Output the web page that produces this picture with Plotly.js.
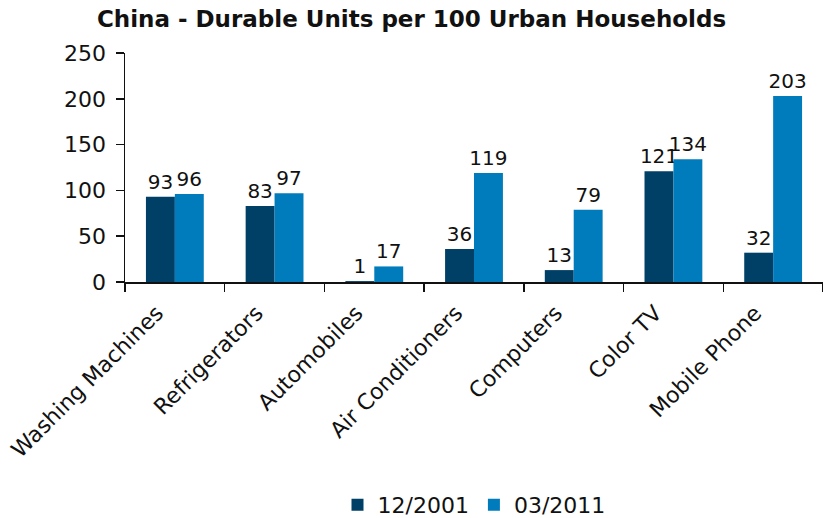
<!DOCTYPE html>
<html><head><meta charset="utf-8">
<script src="https://cdn.plot.ly/plotly-3.0.1.min.js"></script>
<style>body{margin:0;padding:0;background:#fff}</style>
</head><body>
<div id="chart" style="width:823px;height:518px"></div>
<script>
const categories = ["Washing Machines","Refrigerators","Automobiles","Air Conditioners","Computers","Color TV","Mobile Phone"];
const series2001 = [93, 83, 1, 36, 13, 121, 32];
const series2011 = [96, 97, 17, 119, 79, 134, 203];
const seriesNames = ["12/2001", "03/2011"];
const yTicks = [0, 50, 100, 150, 200, 250];

const font = "Verdana, 'DejaVu Sans', sans-serif";
const traces = [
  {type:'bar', name:seriesNames[0], x:categories, y:series2001, marker:{color:'#003f66'},
   text:series2001.map(String), textposition:'outside', cliponaxis:false, constraintext:'none',
   textfont:{size:20,color:'#111'}},
  {type:'bar', name:seriesNames[1], x:categories, y:series2011, marker:{color:'#007bbb'},
   text:series2011.map(String), textposition:'outside', cliponaxis:false, constraintext:'none',
   textfont:{size:20,color:'#111'}}
];
const layout = {
  width:823, height:518,
  margin:{l:125, r:0, t:53, b:236},
  font:{family:font, size:22, color:'#111'},
  title:{text:'<b>China - Durable Units per 100 Urban Households</b>', x:0.5, xref:'container', xanchor:'center', y:0.963, yanchor:'middle', font:{size:23, family:font, color:'#111'}},
  barmode:'group', bargap:0.42, bargroupgap:0,
  showlegend:true,
  legend:{orientation:'h', x:0.5, xanchor:'center', yref:'container', y:0.025, yanchor:'middle', font:{size:22}, traceorder:'normal'},
  xaxis:{tickangle:-45, showline:true, linecolor:'#111', linewidth:1.5, ticks:'outside', tickson:'boundaries', ticklen:8, tickcolor:'#111', tickwidth:1.5, ticklabelstandoff:8, ticklabelshift:-18, showgrid:false, automargin:false},
  yaxis:{range:[0,250], tickvals:yTicks, showline:true, linecolor:'#111', linewidth:1.5, ticks:'outside', ticklen:8, tickcolor:'#111', tickwidth:1.5, ticklabelstandoff:5, showgrid:false, zeroline:false, automargin:false},
  plot_bgcolor:'#fff', paper_bgcolor:'#fff'
};
Plotly.newPlot('chart', traces, layout, {displayModeBar:false, staticPlot:true});
</script>
</body></html>
